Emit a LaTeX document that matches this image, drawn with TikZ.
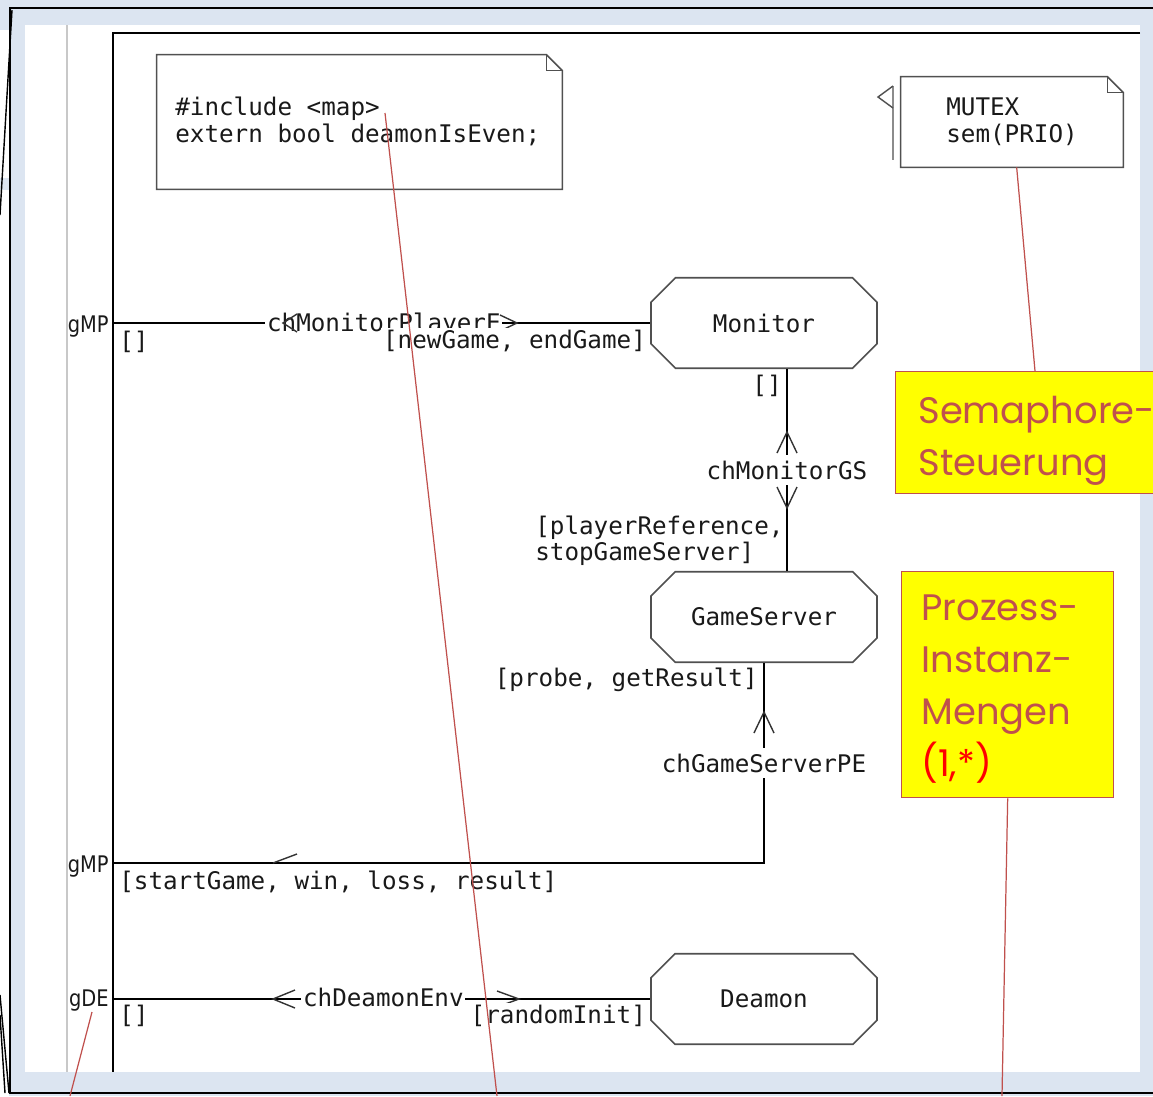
\documentclass[tikz,border=0pt]{standalone}
\usepackage{fontspec}
\usetikzlibrary{shapes.misc,calc}
\newfontfamily\codefont{DejaVu Sans Mono}
\newfontfamily\gatefont[FakeStretch=0.85]{DejaVu Sans}
\newfontfamily\handfont{Poppins}
\definecolor{slideblue}{RGB}{220,229,241}
\definecolor{shapegray}{RGB}{80,80,80}
\definecolor{railgray}{RGB}{200,200,200}
\definecolor{callred}{RGB}{192,80,77}
\definecolor{hiyellow}{RGB}{255,255,0}

\begin{document}
\begin{tikzpicture}[x=0.02cm,y=-0.02cm,
  code/.style={font=\codefont\fontsize{13.8}{16}\selectfont, inner sep=0pt, text=black!90},
  gate/.style={font=\gatefont\fontsize{13}{15}\selectfont, inner sep=0pt, text=black!90},
  chlabel/.style={code, fill=white, inner xsep=1pt, inner ysep=3pt},
  wire/.style={draw=black, line width=0.9pt},
  chev/.style={draw=black!80, line width=0.8pt},
  noteline/.style={draw=shapegray, line width=0.9pt},
  notebox/.style={inner sep=0pt, fill=white},
  process/.style={chamfered rectangle, chamfered rectangle xsep=0.3cm,
    chamfered rectangle ysep=0.3cm, draw=shapegray, line width=0.9pt, fill=white,
    minimum width=4.52cm, minimum height=1.81cm, inner sep=0pt,
    font=\codefont\fontsize{13.8}{16}\selectfont, text=black!90},
  callout/.style={draw=callred, line width=0.8pt, fill=hiyellow, inner sep=0pt},
  hand/.style={font=\handfont\fontsize{21}{25}\selectfont, inner sep=0pt, text=callred},
  callline/.style={draw=callred, line width=0.7pt}
]
\useasboundingbox (0,0) rectangle (1153,1096);

% slide background and frame
\fill[slideblue] (0,0) rectangle (1153,1096);
\fill[white] (0,30) rectangle (9,178);
\fill[white] (0,190) rectangle (9,1096);
\fill[white] (25,25) rectangle (1140,1072);
\draw[black, line width=1.1pt] (1153,8) -- (10,8) -- (10,1093) -- (1153,1093);
\draw[black, line width=0.8pt] (12,10) -- (0,215);
\draw[black, line width=0.8pt] (0,995) -- (9,1093);
\draw[black, line width=0.8pt] (0,1015) -- (5,1093);

% diagram rail and frame
\draw[railgray, line width=1.4pt] (67,25) -- (67,1072);
\draw[black, line width=0.9pt] (1140,33) -- (113,33) -- (113,1072);

% text note with folded corner
\node[notebox, minimum width=8.1cm, minimum height=2.68cm] (incl) at (359.5,122) {};
\draw[noteline] (incl.north west) -- ($(incl.north east)+(-16,0)$) -- ($(incl.north east)+(0,16)$)
  -- (incl.south east) -- (incl.south west) -- cycle;
\draw[noteline] ($(incl.north east)+(-16,0)$) -- ($(incl.north east)+(-16,16)$) -- ($(incl.north east)+(0,16)$);
\node[code, anchor=base west] (inclA) at (175,115) {\#include <map>};
\node[code, anchor=base west] (inclB) at (175,142) {extern bool deamonIsEven;};

% semaphore note with flag
\node[notebox, minimum width=4.44cm, minimum height=1.8cm] (mutex) at (1012,122) {};
\draw[noteline] (mutex.north west) -- ($(mutex.north east)+(-16,0)$) -- ($(mutex.north east)+(0,16)$)
  -- (mutex.south east) -- (mutex.south west) -- cycle;
\draw[noteline] ($(mutex.north east)+(-16,0)$) -- ($(mutex.north east)+(-16,16)$) -- ($(mutex.north east)+(0,16)$);
\node[code, anchor=base west] (mutexA) at (946,115) {MUTEX};
\node[code, anchor=base west] (mutexB) at (946,142) {sem(PRIO)};
\draw[railgray!70!black, line width=1.2pt] (893,86) -- (893,160);
\draw[shapegray, line width=0.8pt] (893,86) -- (878,97) -- (893,108);

% processes
\node[process] (Monitor) at (764,323) {Monitor};
\node[process] (GameServer) at (764,617) {GameServer};
\node[process] (Deamon) at (764,999) {Deamon};

% gate end points on the frame
\coordinate (gmpA) at (113,323);
\coordinate (gmpB) at (113,863);
\coordinate (gde) at (113,999);
\node[gate, anchor=base east] (gmpAlbl) at (109,332) {gMP};
\node[gate, anchor=base east] (gmpBlbl) at (109,872) {gMP};
\node[gate, anchor=base east] (gdelbl) at (109,1006) {gDE};

% channel chMonitorPlayerE
\draw[wire] (gmpA) -- (Monitor.west);
\node[chlabel, anchor=base west] (chMP) at (265,331) {chMonitorPlayerE};
\draw[chev] (297,314) -- (283,323) -- (297,332);
\draw[chev] (500,315) -- (517,323) -- (500,331);
\node[code, anchor=base west] (mpL) at (119,349) {[]};
\node[code, fill=white, inner sep=1pt, anchor=base east] (mpR) at (648,348) {[newGame, endGame]};

% channel chMonitorGS
\draw[wire] ($(Monitor.south)+(23,0)$) -- ($(GameServer.north)+(23,0)$);
\node[chlabel, anchor=base] (chGS) at (787,479) {chMonitorGS};
\draw[chev] (777,453) -- (787,432) -- (797,453);
\draw[chev] (777,487) -- (787,508) -- (797,487);
\node[code, anchor=base east] (gsTop) at (782,393) {[]};
\node[code, anchor=base west] (gsBotA) at (535,534) {[playerReference,};
\node[code, anchor=base west] (gsBotB) at (535,560) {stopGameServer]};

% channel chGameServerPE
\draw[wire] (GameServer.south) -- (GameServer.south |- gmpB) -- (gmpB);
\node[chlabel, anchor=base] (chPE) at (764,772) {chGameServerPE};
\draw[chev] (754,733) -- (764,712) -- (774,733);
\draw[chev] (297,854) -- (273,863);
\node[code, anchor=base east] (peTop) at (758,686) {[probe, getResult]};
\node[code, anchor=base west] (peBot) at (119,889) {[startGame, win, loss, result]};

% channel chDeamonEnv
\draw[wire] (gde) -- (Deamon.west);
\node[chlabel, anchor=base west] (chDE) at (301,1006) {chDeamonEnv};
\draw[chev] (295,990) -- (273,999) -- (295,1008);
\draw[chev] (497,991) -- (519,999) -- (497,1007);
\node[code, anchor=base west] (deL) at (119,1023) {[]};
\node[code, fill=white, inner sep=1pt, anchor=base east] (deR) at (648,1023) {[randomInit]};

% highlighted remarks
\node[callout, anchor=north west, minimum width=5.4cm, minimum height=2.44cm] (semabox) at (895,371) {};
\node[hand, anchor=base west] (semaA) at (918,423) {Semaphore-};
\node[hand, anchor=base west] (semaB) at (918,475) {Steuerung};

\node[callout, anchor=north west, minimum width=4.24cm, minimum height=4.52cm] (procbox) at (901,571) {};
\node[hand, anchor=base west] (procA) at (921,620) {Prozess-};
\node[hand, anchor=base west] (procB) at (921,672) {Instanz-};
\node[hand, anchor=base west] (procC) at (921,724) {Mengen};
\node[hand, anchor=base west, text=red] (procD) at (921,776) {(1,*)};

% pointer lines
\coordinate (mapPt) at (385,113);
\coordinate (mapEnd) at (497,1096);
\coordinate (gdePt) at (92,1012);
\coordinate (gdeEnd) at (70,1096);
\coordinate (procEnd) at (1002,1096);
\draw[callline] (mapPt) -- (mapEnd);
\draw[callline] (gdePt) -- (gdeEnd);
\draw[callline] ($(semabox.north west)+(140,0)$) -- ($(mutex.south west)+(116,0)$);
\draw[callline] (procbox.south) -- (procEnd);
\end{tikzpicture}
\end{document}
